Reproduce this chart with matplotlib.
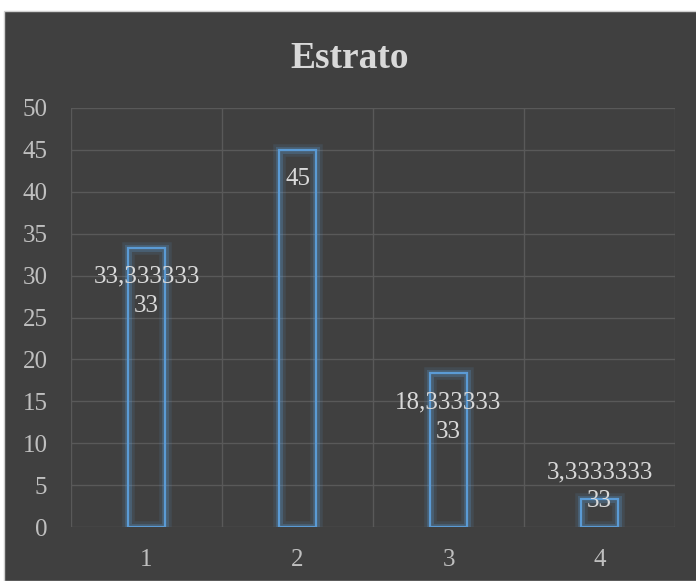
import matplotlib
matplotlib.use('Agg')
import matplotlib.pyplot as plt
import matplotlib.patheffects as pe
from matplotlib.patches import Rectangle
import numpy as np

BG = '#404040'
GRID = '#595959'
TXT = '#d9d9d9'
BLUE = '#5b9bd5'

categories = ['1', '2', '3', '4']
values = [33.33333333, 45, 18.33333333, 3.333333333]
labels = ['33,333333\n33', '45', '18,333333\n33', '3,3333333\n33']
yticks = [0, 5, 10, 15, 20, 25, 30, 35, 40, 45, 50]

plt.rcParams['font.family'] = ['Liberation Serif', 'DejaVu Serif']

fig = plt.figure(figsize=(6.96, 5.81), dpi=100, facecolor='white')
# dark chart area with the white strip at top/left
fig.patches.append(Rectangle((4/696, 0), 1, (581-11)/581, transform=fig.transFigure,
                             facecolor=BG, edgecolor='#d0d0d0', lw=1, zorder=-10))

ax = fig.add_axes([71/696, 1-527/581, (675-71)/696, (527-108)/581])
ax.set_facecolor(BG)
ax.patch.set_alpha(0)

x = np.arange(len(categories))
bars = ax.bar(x, values, width=0.245, facecolor='none', edgecolor=BLUE, linewidth=1.6, zorder=3)
for b in bars:
    b.set_path_effects([pe.Stroke(linewidth=9, foreground=BLUE, alpha=0.12),
                        pe.Stroke(linewidth=5, foreground=BLUE, alpha=0.25),
                        pe.Normal()])

for xi, v, lab in zip(x, values, labels):
    if v > 10:
        ax.annotate(lab, (xi, v), xytext=(0, -13), textcoords='offset points',
                    ha='center', va='top', color=TXT, fontsize=18, linespacing=1.42, zorder=4)
    else:
        ax.annotate(lab, (xi, v), xytext=(0, 9), textcoords='offset points',
                    ha='center', va='center', color=TXT, fontsize=18, linespacing=1.42, zorder=4)

ax.set_xlim(-0.5, len(categories) - 0.5)
ax.set_ylim(0, 50)
ax.set_yticks(yticks)
ax.set_xticks(x)
ax.set_xticklabels(categories)
ax.set_xticks(np.arange(len(categories) + 1) - 0.5, minor=True)
ax.grid(axis='y', color=GRID, lw=1, zorder=0)
ax.grid(axis='x', which='minor', color=GRID, lw=1, zorder=0)
ax.tick_params(which='both', length=0, colors='#bfbfbf', labelsize=18)
ax.tick_params(axis='y', pad=17)
ax.tick_params(axis='x', pad=16)
for s in ax.spines.values():
    s.set_visible(False)

fig.text((4 + 696) / 2 / 696, 1 - 59/581, 'Estrato', ha='center', va='center',
         color=TXT, fontsize=27, fontweight='bold')

fig.savefig('out.png', dpi=100, facecolor='white')
